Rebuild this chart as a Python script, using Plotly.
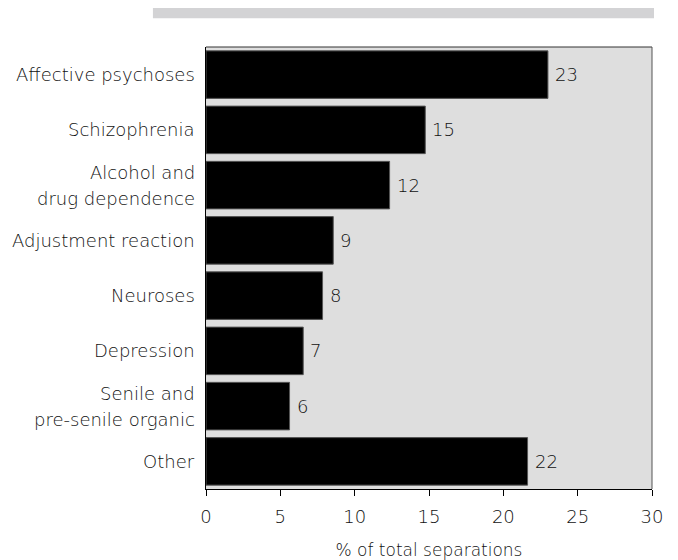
import plotly.graph_objects as go

# Share of total separations by diagnosis (%)
categories = [
    "Affective psychoses",
    "Schizophrenia",
    "Alcohol and<br>drug dependence",
    "Adjustment reaction",
    "Neuroses",
    "Depression",
    "Senile and<br>pre-senile organic",
    "Other",
]
values = [23.0, 14.75, 12.35, 8.56, 7.84, 6.54, 5.62, 21.63]
x_ticks = [0, 5, 10, 15, 20, 25, 30]

FONT = "DejaVu Sans"
TEXT = "#111111"
WEIGHT = 200
LINE_GAP = 13  # half the spacing between lines of a two-line category label

fig = go.Figure(
    go.Bar(
        x=values,
        y=categories,
        orientation="h",
        marker=dict(color="#000000", line=dict(color="#555555", width=1)),
        width=0.86,
        hoverinfo="x+y",
    )
)

# value labels just past the end of each bar
for cat, v in zip(categories, values):
    fig.add_annotation(
        x=v, y=cat, xref="x", yref="y",
        text=f"{v:.0f}", showarrow=False,
        xanchor="left", xshift=5,
        font=dict(family=FONT, size=18, color=TEXT, weight=WEIGHT),
    )

# category labels, right-aligned against the axis, with open line spacing
for cat in categories:
    lines = cat.split("<br>")
    n = len(lines)
    for i, line in enumerate(lines):
        fig.add_annotation(
            x=0, y=cat, xref="paper", yref="y",
            text=line, showarrow=False,
            xanchor="right", xshift=-9,
            yshift=(n - 1 - 2 * i) * LINE_GAP,
            font=dict(family=FONT, size=18, color=TEXT, weight=WEIGHT),
        )

# decorative grey rule above the plot
fig.add_shape(
    type="rect", xref="paper", yref="paper",
    x0=-0.119, x1=1.0045, y0=1.065, y1=1.088,
    fillcolor="#d3d3d5", line=dict(width=0), layer="above",
)

fig.update_layout(
    width=678, height=560,
    margin=dict(l=206, r=26, t=47, b=71, autoexpand=False),
    paper_bgcolor="#ffffff",
    plot_bgcolor="#dedede",
    showlegend=False,
    font=dict(family=FONT, size=18, color=TEXT, weight=WEIGHT),
)

fig.update_xaxes(
    range=[0, 30],
    tickvals=x_ticks,
    ticks="outside", ticklen=6, tickcolor="#000000", tickwidth=1,
    showline=True, linecolor="#000000", linewidth=1,
    showgrid=False, zeroline=False,
    automargin=False,
    ticklabelstandoff=5,
    tickfont=dict(family=FONT, size=18, color=TEXT, weight=WEIGHT),
    title=dict(text="% of total separations", standoff=20,
               font=dict(family=FONT, size=17, color=TEXT, weight=WEIGHT)),
)

fig.update_yaxes(
    categoryorder="array", categoryarray=categories,
    autorange="reversed",
    showline=True, linecolor="#000000", linewidth=1,
    showgrid=False, zeroline=False,
    automargin=False,
    ticks="", showticklabels=False,
)

# thin frame on the top and right edges of the plot area
fig.add_shape(type="line", xref="paper", yref="paper",
              x0=0, x1=1, y0=1, y1=1, line=dict(color="#333333", width=1))
fig.add_shape(type="line", xref="paper", yref="paper",
              x0=1, x1=1, y0=0, y1=1, line=dict(color="#555555", width=1))

fig.write_html("out.html")
